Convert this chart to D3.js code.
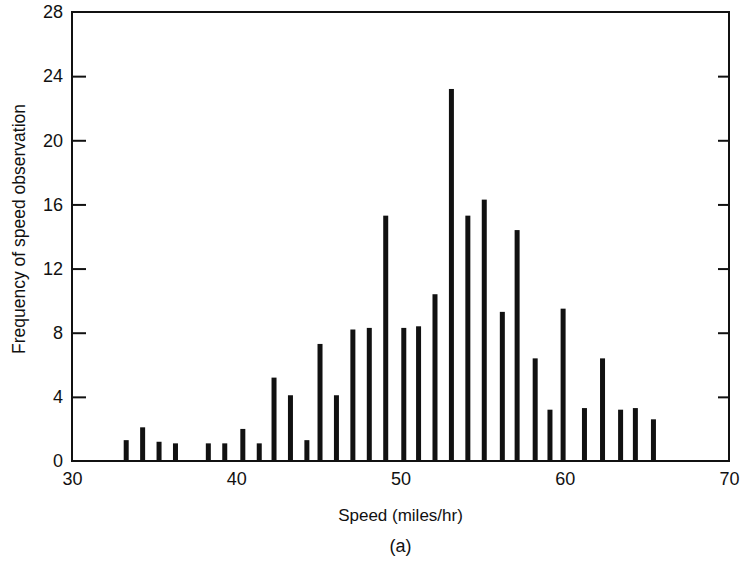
<!DOCTYPE html>
<html>
<head>
<meta charset="utf-8">
<script src="https://cdn.jsdelivr.net/npm/d3@7"></script>
<style>
	body { margin: 0; background: #fff; }
	svg { display: block; }
	text { font-family: "Liberation Sans", Arial, Helvetica, sans-serif; fill: #111; }
	.axis text { font-size: 18px; }
	.axis path { display: none; }
	.axis line { stroke: #111; stroke-width: 2px; }
	.frame { fill: none; stroke: #111; stroke-width: 2px; }
	.bar { fill: #111; }
</style>
</head>
<body>
<div id="chart"></div>
<script>
// speed readings (miles/hr) and how often each was seen
var speeds = [33.3, 34.3, 35.3, 36.3, 38.3, 39.3, 40.4, 41.4, 42.3, 43.3, 44.3,
	45.1, 46.1, 47.1, 48.1, 49.1, 50.2, 51.1, 52.1, 53.1, 54.1, 55.1, 56.2,
	57.1, 58.2, 59.1, 59.9, 61.2, 62.3, 63.4, 64.3, 65.4];
var frequencies = [1.3, 2.1, 1.2, 1.1, 1.1, 1.1, 2.0, 1.1, 5.2, 4.1, 1.3,
	7.3, 4.1, 8.2, 8.3, 15.3, 8.3, 8.4, 10.4, 23.2, 15.3, 16.3, 9.3,
	14.4, 6.4, 3.2, 9.5, 3.3, 6.4, 3.2, 3.3, 2.6];
var xTicks = [30, 40, 50, 60, 70];
var yTicks = [0, 4, 8, 12, 16, 20, 24, 28];

var options = {
	container: { width: 744, height: 563 },
	margin: { top: 12, right: 15, bottom: 102, left: 72 },
	barWidth: 5
};

var data = speeds.map(function(s, i) { return { speed: s, freq: frequencies[i] }; });

var width = options.container.width - options.margin.left - options.margin.right,
	height = options.container.height - options.margin.top - options.margin.bottom;

var svg = d3.select('#chart').append("svg")
	.attr("width", options.container.width)
	.attr("height", options.container.height);

var g = svg.append("g")
	.attr("transform", "translate(" + options.margin.left + "," + options.margin.top + ")");

var x = d3.scaleLinear().domain([30, 70]).range([0, width]);
var y = d3.scaleLinear().domain([0, 28]).range([height, 0]);

// bars
g.selectAll(".bar")
	.data(data)
	.enter().append("rect")
	.attr("class", "bar")
	.attr("x", function(d) { return x(d.speed) - options.barWidth / 2; })
	.attr("y", function(d) { return y(d.freq); })
	.attr("width", options.barWidth)
	.attr("height", function(d) { return height - y(d.freq); });

// x labels
g.append("g")
	.attr("class", "axis axis--x")
	.attr("transform", "translate(0," + height + ")")
	.call(d3.axisBottom(x).tickValues(xTicks).tickSize(0).tickPadding(11));

// y labels
g.append("g")
	.attr("class", "axis axis--y")
	.call(d3.axisLeft(y).tickValues(yTicks).tickSize(0).tickPadding(9));

// inner ticks, left and right
g.append("g")
	.attr("class", "axis")
	.call(d3.axisRight(y).tickValues(yTicks.slice(1, -1)).tickSize(14).tickFormat(""));

g.append("g")
	.attr("class", "axis")
	.attr("transform", "translate(" + width + ",0)")
	.call(d3.axisLeft(y).tickValues(yTicks.slice(1, -1)).tickSize(11).tickFormat(""));

// frame
g.append("rect")
	.attr("class", "frame")
	.attr("x", 0)
	.attr("y", 0)
	.attr("width", width)
	.attr("height", height);

// titles
g.append("text")
	.attr("x", x(50))
	.attr("y", height + 60)
	.attr("text-anchor", "middle")
	.style("font-size", "17px")
	.text("Speed (miles/hr)");

g.append("text")
	.attr("transform", "translate(" + (25 - options.margin.left) + "," + (229 - options.margin.top) + ") rotate(-90)")
	.attr("text-anchor", "middle")
	.style("font-size", "17.5px")
	.text("Frequency of speed observation");

g.append("text")
	.attr("x", x(50))
	.attr("y", height + 91)
	.attr("text-anchor", "middle")
	.style("font-size", "18px")
	.text("(a)");
</script>
</body>
</html>
